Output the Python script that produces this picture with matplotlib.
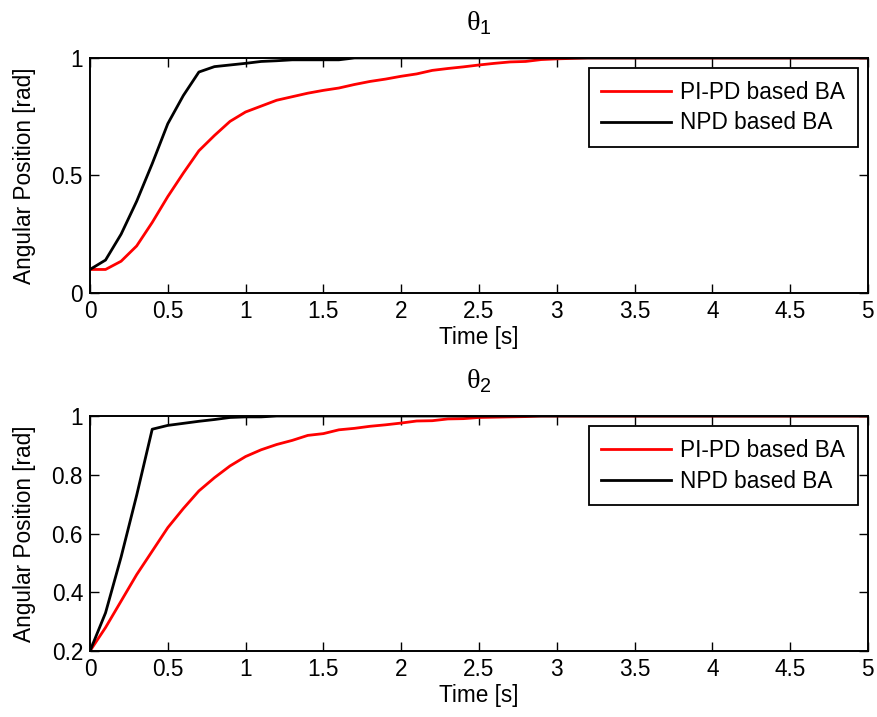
import numpy as np
import matplotlib
matplotlib.use("Agg")
import matplotlib.pyplot as plt

plt.rcParams["font.family"] = ["Liberation Sans", "DejaVu Sans"]
plt.rcParams["mathtext.fontset"] = "custom"
plt.rcParams["mathtext.rm"] = "Liberation Sans"
plt.rcParams["mathtext.it"] = "Liberation Sans:italic"

# time grid (s)
t1_red = [0.0, 0.1, 0.2, 0.3, 0.4, 0.5, 0.6, 0.7, 0.8, 0.9, 1.0, 1.1, 1.2, 1.3, 1.4,
          1.5, 1.6, 1.7, 1.8, 1.9, 2.0, 2.1, 2.2, 2.3, 2.4, 2.5, 2.6, 2.7, 2.8, 2.9,
          3.0, 3.1, 3.2, 5.0]
theta1_pipd = [0.10, 0.10, 0.135, 0.20, 0.30, 0.41, 0.51, 0.605, 0.67, 0.73, 0.77,
               0.795, 0.82, 0.835, 0.85, 0.862, 0.872, 0.887, 0.90, 0.91, 0.922,
               0.932, 0.947, 0.955, 0.962, 0.97, 0.977, 0.983, 0.985, 0.993, 0.996,
               0.998, 1.0, 1.0]

t1_blk = [0.0, 0.1, 0.2, 0.3, 0.4, 0.5, 0.6, 0.7, 0.8, 0.9, 1.0, 1.1, 1.2, 1.3,
          1.6, 1.7, 5.0]
theta1_npd = [0.10, 0.14, 0.25, 0.39, 0.55, 0.72, 0.84, 0.94, 0.963, 0.97, 0.977,
              0.985, 0.988, 0.992, 0.992, 1.0, 1.0]

t2_red = [0.0, 0.1, 0.2, 0.3, 0.4, 0.5, 0.6, 0.7, 0.8, 0.9, 1.0, 1.1, 1.2, 1.3, 1.4,
          1.5, 1.6, 1.7, 1.8, 1.9, 2.0, 2.1, 2.2, 2.3, 2.4, 2.5, 2.6, 2.7, 2.8, 2.9,
          5.0]
theta2_pipd = [0.20, 0.28, 0.37, 0.46, 0.54, 0.62, 0.685, 0.745, 0.79, 0.83, 0.862,
               0.885, 0.903, 0.917, 0.934, 0.94, 0.953, 0.958, 0.965, 0.97, 0.976,
               0.983, 0.984, 0.99, 0.991, 0.995, 0.996, 0.997, 0.998, 1.0, 1.0]

t2_blk = [0.0, 0.1, 0.2, 0.3, 0.4, 0.5, 0.6, 0.7, 0.8, 0.9, 1.0, 1.1, 1.2, 5.0]
theta2_npd = [0.20, 0.33, 0.52, 0.73, 0.955, 0.968, 0.975, 0.982, 0.988, 0.995,
              0.997, 0.997, 1.0, 1.0]

xtick_labels = ["0", "0.5", "1", "1.5", "2", "2.5", "3", "3.5", "4", "4.5", "5"]

FS = 16.3
LW = 2.0


def style_axes(ax, yticks, ylim):
    ax.set_xlim(0, 5)
    ax.set_ylim(*ylim)
    ax.set_xticks(np.arange(0, 5.01, 0.5))
    ax.set_xticklabels(xtick_labels)
    ax.set_yticks(yticks)
    ax.tick_params(direction="in", top=True, right=True, length=6.5, width=1,
                   labelsize=FS, pad=5)
    for sp in ax.spines.values():
        sp.set_linewidth(1.4)
    ax.set_xlabel("Time [s]", fontsize=FS, labelpad=2)
    ax.set_ylabel("Angular Position [rad]", fontsize=FS, labelpad=11)
    leg = ax.legend(loc="upper right", fontsize=FS, handlelength=3.1,
                    handletextpad=0.4, fancybox=False, edgecolor="black",
                    framealpha=1, borderaxespad=0.45, borderpad=0.55,
                    labelspacing=0.35)
    leg.get_frame().set_linewidth(1.3)


fig = plt.figure(figsize=(8.77, 7.17), dpi=100)
ax1 = fig.add_axes([0.1026, 0.5914, 0.887, 0.3278])
ax2 = fig.add_axes([0.1026, 0.092, 0.887, 0.3278])

ax1.plot(t1_red, theta1_pipd, color="red", lw=LW, label="PI-PD based BA")
ax1.plot(t1_blk, theta1_npd, color="black", lw=LW, label="NPD based BA")
style_axes(ax1, [0, 0.5, 1], (0, 1))
ax1.set_yticklabels(["0", "0.5", "1"])
ax1.set_title("θ$_1$", fontsize=FS + 4, pad=20, family=["Liberation Serif"])

ax2.plot(t2_red, theta2_pipd, color="red", lw=LW, label="PI-PD based BA")
ax2.plot(t2_blk, theta2_npd, color="black", lw=LW, label="NPD based BA")
style_axes(ax2, [0.2, 0.4, 0.6, 0.8, 1.0], (0.2, 1))
ax2.set_yticklabels(["0.2", "0.4", "0.6", "0.8", "1"])
ax2.set_title("θ$_2$", fontsize=FS + 4, pad=20, family=["Liberation Serif"])

fig.savefig("out.png", dpi=100)
